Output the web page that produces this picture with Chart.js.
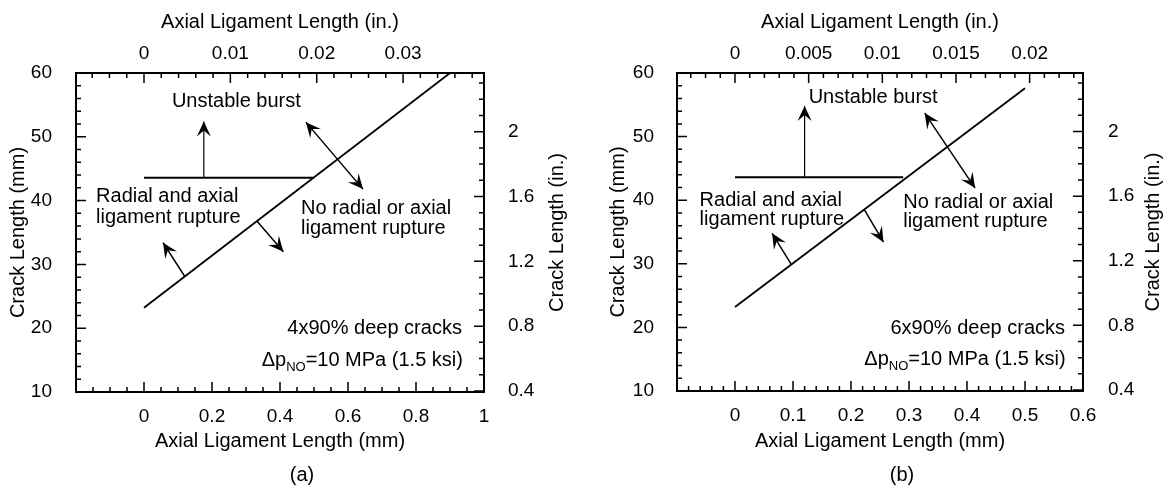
<!DOCTYPE html>
<html>
<head>
<meta charset="utf-8">
<script src="https://cdn.jsdelivr.net/npm/chart.js@4.4.1/dist/chart.umd.min.js"></script>
<style>
  body { margin: 0; background: #fff; }
  #wrap { position: relative; width: 1173px; height: 488px; }
  #chartA { position: absolute; left: 0; top: 0; }
  #chartB { position: absolute; left: 586px; top: 0; }
</style>
</head>
<body>
<div id="wrap">
  <canvas id="chartA" width="586" height="488"></canvas>
  <canvas id="chartB" width="587" height="488"></canvas>
</div>
<script>
// ---------------- panel (a) : 4x90% deep cracks ----------------
var boundaryA = [{x: 0, y: 23.2}, {x: 0.9, y: 60}];
var burstA    = [{x: 0, y: 43.6}, {x: 0.5, y: 43.6}];
var upArrowA  = [{x: 0.176, y: 43.6}, {x: 0.176, y: 52.4}];
var lowArrowA = [{x: 0.12, y: 28.1}, {x: 0.056, y: 33.4}];
var midArrowA = [{x: 0.332, y: 36.8}, {x: 0.41, y: 32.0}];
var dblArrowA = [{x: 0.476, y: 52.3}, {x: 0.644, y: 41.8}];
var mmTicksA  = [0, 0.2, 0.4, 0.6, 0.8, 1];
var inTicksA  = [0, 0.01, 0.02, 0.03];

// ---------------- panel (b) : 6x90% deep cracks ----------------
var boundaryB = [{x: 0, y: 23.2}, {x: 0.5, y: 57.6}];
var burstB    = [{x: 0, y: 43.6}, {x: 0.29, y: 43.6}];
var upArrowB  = [{x: 0.12, y: 43.6}, {x: 0.12, y: 54.8}];
var lowArrowB = [{x: 0.097, y: 29.9}, {x: 0.064, y: 34.8}];
var midArrowB = [{x: 0.223, y: 38.5}, {x: 0.256, y: 33.4}];
var dblArrowB = [{x: 0.327, y: 53.7}, {x: 0.414, y: 41.9}];
var mmTicksB  = [0, 0.1, 0.2, 0.3, 0.4, 0.5, 0.6];
var inTicksB  = [0, 0.005, 0.01, 0.015, 0.02];

// ---------------- shared crack length axes ----------------
var crackMmTicks = [10, 20, 30, 40, 50, 60];
var crackInTicks = [0.4, 0.8, 1.2, 1.6, 2];

// text notes, anchored in data units (mm, mm)
var notesA = [
  {t: 'Unstable burst',      x: 0.082,  y: 55.6, al: 'left'},
  {t: 'Radial and axial',    x: -0.141, y: 40.6, al: 'left'},
  {t: 'ligament rupture',    x: -0.141, y: 37.4, al: 'left'},
  {t: 'No radial or axial',  x: 0.462,  y: 38.8, al: 'left'},
  {t: 'ligament rupture',    x: 0.462,  y: 35.7, al: 'left'},
  {t: '4x90% deep cracks',   x: 0.935,  y: 19.9, al: 'right'},
  {t: 'dp',                  x: 0.938,  y: 14.9, al: 'right'}
];
var notesB = [
  {t: 'Unstable burst',      x: 0.127,  y: 56.2, al: 'left'},
  {t: 'Radial and axial',    x: -0.061, y: 40.0, al: 'left'},
  {t: 'ligament rupture',    x: -0.061, y: 36.9, al: 'left'},
  {t: 'No radial or axial',  x: 0.29,   y: 39.6, al: 'left'},
  {t: 'ligament rupture',    x: 0.29,   y: 36.6, al: 'left'},
  {t: '6x90% deep cracks',   x: 0.569,  y: 19.9, al: 'right'},
  {t: 'dp',                  x: 0.570,  y: 14.9, al: 'right'}
];

Chart.defaults.font.family = "'Liberation Sans', Arial, Helvetica, sans-serif";
Chart.defaults.color = '#000';

var FONT = "'Liberation Sans', Arial, sans-serif";

function drawHead(ctx, fx, fy, tx, ty) {
  var ang = Math.atan2(ty - fy, tx - fx), L = 15, W = 7;
  ctx.save();
  ctx.translate(tx, ty);
  ctx.rotate(ang);
  ctx.beginPath();
  ctx.moveTo(0, 0);
  ctx.lineTo(-L, -W);
  ctx.lineTo(-L * 0.6, 0);
  ctx.lineTo(-L, W);
  ctx.closePath();
  ctx.fill();
  ctx.restore();
}

// inward tick marks, minor + major
function inwardTicks(chart, id, minorStep, majorStep) {
  var s = chart.scales[id], a = chart.chartArea, ctx = chart.ctx;
  var n0 = Math.ceil(s.min / minorStep - 1e-6), n1 = Math.floor(s.max / minorStep + 1e-6);
  ctx.save();
  ctx.strokeStyle = '#000';
  ctx.lineWidth = 1.5;
  ctx.beginPath();
  for (var n = n0; n <= n1; n++) {
    var v = n * minorStep;
    var r = v / majorStep;
    var len = Math.abs(r - Math.round(r)) < 1e-6 ? 10 : 5;
    var p = s.getPixelForValue(v);
    if (s.position == 'bottom') { ctx.moveTo(p, a.bottom); ctx.lineTo(p, a.bottom - len); }
    if (s.position == 'top')    { ctx.moveTo(p, a.top);    ctx.lineTo(p, a.top + len); }
    if (s.position == 'left')   { ctx.moveTo(a.left, p);   ctx.lineTo(a.left + len, p); }
    if (s.position == 'right')  { ctx.moveTo(a.right, p);  ctx.lineTo(a.right - len, p); }
  }
  ctx.stroke();
  ctx.restore();
}

var extras = {
  id: 'extras',
  afterDatasetsDraw: function(chart) {
    var ctx = chart.ctx, o = chart.options.plugins.extras;
    var xs = chart.scales.x, ys = chart.scales.y;
    var a = chart.chartArea;

    inwardTicks(chart, 'x', o.mmMinor, o.mmMajor);
    inwardTicks(chart, 'x2', o.inMinor, o.inMajor);
    inwardTicks(chart, 'y', 2, 10);
    inwardTicks(chart, 'y2', 0.1, 0.4);

    // arrow heads
    ctx.fillStyle = '#000';
    chart.data.datasets.forEach(function(ds, i) {
      if (!ds.head) return;
      var pts = chart.getDatasetMeta(i).data;
      var p0 = pts[0], p1 = pts[pts.length - 1];
      drawHead(ctx, p0.x, p0.y, p1.x, p1.y);
      if (ds.head == 'both') drawHead(ctx, p1.x, p1.y, p0.x, p0.y);
    });

    // notes
    ctx.save();
    ctx.textBaseline = 'middle';
    ctx.fillStyle = '#000';
    o.notes.forEach(function(n) {
      var px = xs.getPixelForValue(n.x), py = ys.getPixelForValue(n.y);
      if (n.t == 'dp') {
        var big = '20px ' + FONT, small = '13px ' + FONT;
        ctx.font = big;
        var w1 = ctx.measureText('\u0394p').width, w3 = ctx.measureText('=10 MPa (1.5 ksi)').width;
        ctx.font = small;
        var w2 = ctx.measureText('NO').width;
        var x0 = px - (w1 + w2 + w3);
        ctx.textAlign = 'left';
        ctx.font = big;   ctx.fillText('\u0394p', x0, py);
        ctx.font = small; ctx.fillText('NO', x0 + w1, py + 7);
        ctx.font = big;   ctx.fillText('=10 MPa (1.5 ksi)', x0 + w1 + w2, py);
      } else {
        ctx.font = '20px ' + FONT;
        ctx.textAlign = n.al;
        ctx.fillText(n.t, px, py);
      }
    });

    // right axis title, read bottom to top like the left one
    ctx.font = '20px ' + FONT;
    ctx.textAlign = 'center';
    ctx.save();
    ctx.translate(chart.width - o.rightTitle, (a.top + a.bottom) / 2);
    ctx.rotate(-Math.PI / 2);
    ctx.fillText('Crack Length (in.)', 0, 0);
    ctx.restore();

    // panel letter
    ctx.fillText(o.letter, (a.left + a.right) / 2 + 22, 475);
    ctx.restore();
  }
};

function lineSet(pts, w, head) {
  return {data: pts, showLine: true, borderColor: '#000', borderWidth: w,
          pointRadius: 0, fill: false, tension: 0, head: head};
}

function axisTicks(arr) {
  return function(s) { s.ticks = arr.map(function(v) { return {value: v}; }); };
}

function makeChart(id, p) {
  return new Chart(document.getElementById(id), {
    type: 'scatter',
    data: {
      datasets: [
        lineSet(p.boundary, 1.8),
        lineSet(p.burst, 2),
        lineSet(p.up, 1.2, 'end'),
        lineSet(p.low, 1.5, 'end'),
        lineSet(p.mid, 1.5, 'end'),
        lineSet(p.dbl, 1.5, 'both')
      ]
    },
    options: {
      responsive: false,
      animation: false,
      layout: {padding: 0},
      plugins: {
        legend: {display: false},
        tooltip: {enabled: false},
        extras: {notes: p.notes, letter: p.letter, rightTitle: p.rightTitle,
                 mmMinor: p.mmMinor, mmMajor: p.mmMajor, inMinor: p.inMinor, inMajor: p.inMajor}
      },
      scales: {
        x: {
          type: 'linear', position: 'bottom', min: p.xmin, max: p.xmax,
          afterBuildTicks: axisTicks(p.mmTicks),
          afterFit: function(s) { s.height = p.bottomH; },
          grid: {display: false},
          border: {display: true, color: '#000', width: 2},
          ticks: {font: {size: 19}, padding: 5, maxRotation: 0, callback: function(v) { return String(v); }},
          title: {display: true, text: 'Axial Ligament Length (mm)', font: {size: 20}, padding: {top: 0, bottom: 35}}
        },
        x2: {
          type: 'linear', position: 'top', min: p.xmin / 25.4, max: p.xmax / 25.4,
          afterBuildTicks: axisTicks(p.inTicks),
          afterFit: function(s) { s.height = 73; },
          grid: {display: false},
          border: {display: true, color: '#000', width: 2},
          ticks: {font: {size: 19}, padding: 0, maxRotation: 0, callback: function(v) { return String(v); }},
          title: {display: true, text: 'Axial Ligament Length (in.)', font: {size: 20}, padding: {top: 10, bottom: 0}}
        },
        y: {
          type: 'linear', position: 'left', min: 10, max: 60,
          afterBuildTicks: axisTicks(crackMmTicks),
          afterFit: function(s) { s.width = p.leftW; },
          grid: {display: false},
          border: {display: true, color: '#000', width: 2},
          ticks: {font: {size: 19}, padding: p.leftPad, callback: function(v) { return String(v); }},
          title: {display: true, text: 'Crack Length (mm)', font: {size: 20}, padding: {top: p.leftTitle, bottom: 0}}
        },
        y2: {
          type: 'linear', position: 'right', min: 10 / 25.4, max: 60 / 25.4,
          afterBuildTicks: axisTicks(crackInTicks),
          afterFit: function(s) { s.width = p.rightW; },
          grid: {display: false},
          border: {display: true, color: '#000', width: 2},
          ticks: {font: {size: 19}, padding: p.rightPad, callback: function(v) { return String(v); }},
          title: {display: false}
        }
      }
    },
    plugins: [extras]
  });
}

makeChart('chartA', {
  boundary: boundaryA, burst: burstA, up: upArrowA, low: lowArrowA, mid: midArrowA, dbl: dblArrowA,
  mmTicks: mmTicksA, inTicks: inTicksA, notes: notesA, letter: '(a)',
  xmin: -0.2, xmax: 1, mmMinor: 0.05, mmMajor: 0.2, inMinor: 0.002, inMajor: 0.01,
  leftW: 76, rightW: 102, bottomH: 96, leftPad: 16, rightPad: 16, leftTitle: 6, rightTitle: 29
});

makeChart('chartB', {
  boundary: boundaryB, burst: burstB, up: upArrowB, low: lowArrowB, mid: midArrowB, dbl: dblArrowB,
  mmTicks: mmTicksB, inTicks: inTicksB, notes: notesB, letter: '(b)',
  xmin: -0.1, xmax: 0.6, mmMinor: 0.02, mmMajor: 0.1, inMinor: 0.001, inMajor: 0.005,
  leftW: 91, rightW: 90, bottomH: 97, leftPad: 15, rightPad: 17, leftTitle: 20, rightTitle: 20
});
</script>
</body>
</html>
